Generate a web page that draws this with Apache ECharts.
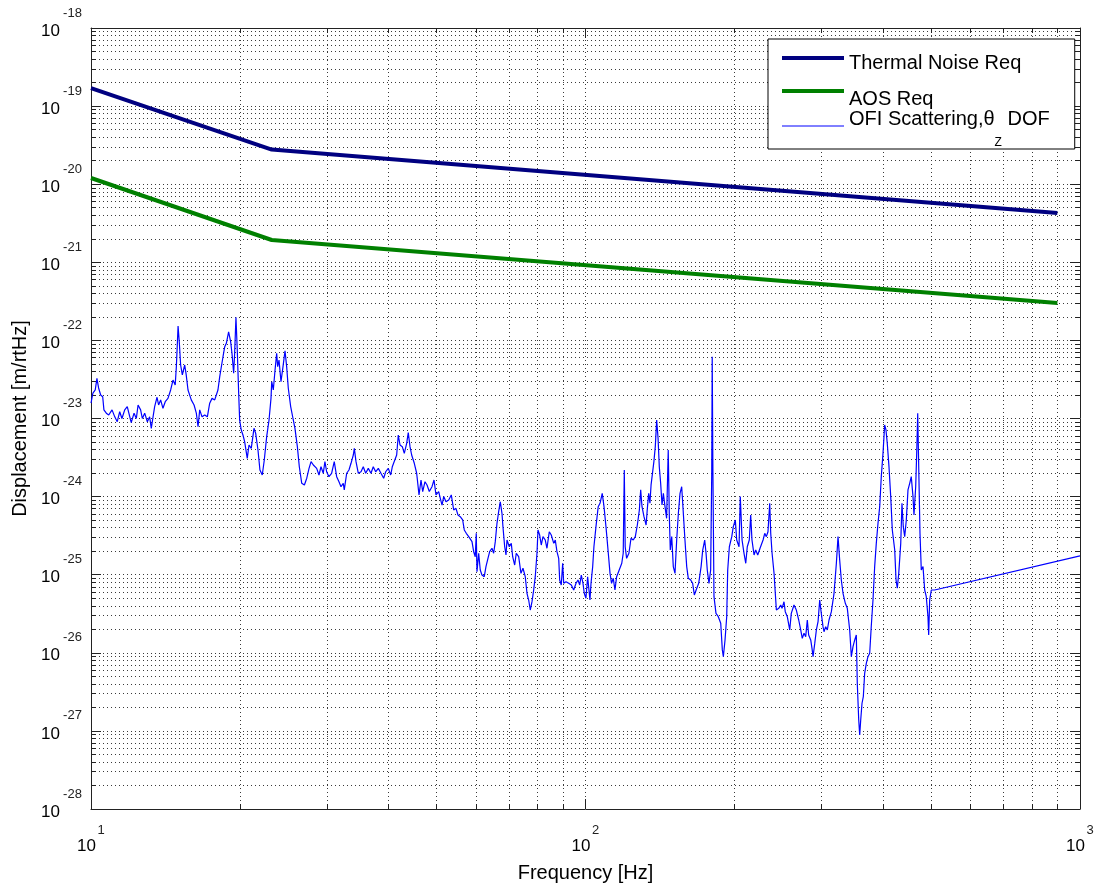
<!DOCTYPE html>
<html>
<head>
<meta charset="utf-8">
<script src="https://cdn.jsdelivr.net/npm/echarts@6/dist/echarts.min.js"></script>
<style>
html,body{margin:0;padding:0;background:#fff;}
#chart{width:1099px;height:892px;}
</style>
</head>
<body>
<div id="chart"></div>
<script>
// ---------------- data ----------------
const thermalFreq = [10, 23.2, 900];
const thermalReq = [1.7e-19, 2.78e-20, 4.28e-21];
const aosFreq = [10, 23.2, 900];
const aosReq = [1.2e-20, 1.93e-21, 3.01e-22];

// OFI scattering, theta_Z DOF : [frequency Hz, displacement m/rtHz]
const ofiScattering = [
[10.0,1.57e-23],[10.09,2.12e-23],[10.20,2.32e-23],[10.28,3.27e-23],[10.36,2.46e-23],[10.46,2.00e-23],[10.56,1.90e-23],[10.62,1.29e-23],[10.74,1.17e-23],[10.86,1.11e-23],
[11.03,1.29e-23],[11.17,1.05e-23],[11.30,9.1e-24],[11.43,1.22e-23],[11.55,1.0e-23],[11.70,1.29e-23],[11.84,1.42e-23],[11.98,1.05e-23],[12.06,8.84e-24],[12.22,1.17e-23],
[12.35,1.0e-23],[12.45,1.49e-23],[12.60,1.29e-23],[12.70,1.0e-23],[12.84,1.17e-23],[13.00,9.1e-24],[13.14,1.05e-23],[13.24,7.49e-24],[13.35,1.05e-23],[13.45,1.42e-23],
[13.60,1.87e-23],[13.70,1.49e-23],[13.83,1.73e-23],[13.98,1.35e-23],[14.13,1.64e-23],[14.31,1.81e-23],[14.49,2.32e-23],[14.65,3.11e-23],[14.80,2.69e-23],[14.88,4.61e-23],
[14.94,8.31e-23],[15.00,1.53e-22],[15.09,9.18e-23],[15.18,4.84e-23],[15.30,3.61e-23],[15.47,4.84e-23],[15.58,3.61e-23],[15.71,2.32e-23],[15.95,1.73e-23],[16.16,1.49e-23],
[16.33,1.17e-23],[16.46,7.85e-24],[16.59,1.29e-23],[16.77,1.05e-23],[16.98,1.11e-23],[17.19,1.05e-23],[17.38,1.57e-23],[17.57,1.81e-23],[17.79,1.73e-23],[18.06,2.32e-23],
[18.21,3.43e-23],[18.49,6.18e-23],[18.64,8.31e-23],[18.78,9.18e-23],[18.98,1.29e-22],[19.16,9.62e-23],[19.28,6.84e-23],[19.43,3.79e-23],[19.52,6.84e-23],[19.64,1.98e-22],
[19.76,7.54e-23],[19.89,2.10e-23],[19.98,9.57e-24],[20.13,7.13e-24],[20.29,6.15e-24],[20.45,5.05e-24],[20.70,3.09e-24],[20.87,4.58e-24],[21.09,4.15e-24],[21.36,7.49e-24],
[21.53,6.46e-24],[21.76,3.95e-24],
[21.96,2.19e-24],[22.20,1.89e-24],[22.41,2.94e-24],[22.66,5.85e-24],[22.91,9.57e-24],[23.12,1.81e-23],[23.20,2.96e-23],[23.37,2.32e-23],[23.56,4.18e-23],[23.74,6.84e-23],
[23.85,4.61e-23],[24.00,5.61e-23],[24.22,2.96e-23],[24.45,4.61e-23],[24.68,7.38e-23],[24.87,4.61e-23],[25.06,2.44e-23],[25.34,1.42e-23],[25.65,9.57e-24],[25.85,7.49e-24],
[26.14,4.36e-24],[26.38,2.41e-24],[26.68,1.48e-24],[27.01,1.41e-24],[27.31,1.72e-24],[27.60,2.30e-24],[27.86,2.80e-24],[28.16,2.54e-24],[28.60,2.30e-24],[28.91,1.89e-24],
[29.18,2.41e-24],[29.49,1.99e-24],[29.72,2.80e-24],[29.96,2.08e-24],[30.28,1.80e-24],[30.66,1.99e-24],[31.04,2.80e-24],[31.39,1.80e-24],[31.73,1.55e-24],[32.03,1.34e-24],
[32.37,1.48e-24],[32.52,1.22e-24],[32.89,1.99e-24],[33.24,2.19e-24],[33.56,2.67e-24],[33.92,3.41e-24],[34.08,4.15e-24],[34.35,2.80e-24],[34.72,1.99e-24],[35.16,2.08e-24],
[35.53,2.41e-24],[35.93,1.99e-24],[36.37,2.30e-24],[36.83,1.99e-24],[37.22,2.41e-24],[37.64,2.08e-24],[38.11,2.30e-24],[38.58,1.99e-24],[39.07,1.72e-24],[39.44,2.08e-24],
[39.92,2.30e-24],[40.37,1.89e-24],[40.67,2.41e-24],[41.05,2.30e-24],[41.51,3.41e-24],[41.82,6.15e-24],[42.16,4.58e-24],[42.61,4.36e-24],[43.01,3.58e-24],[43.49,4.81e-24],
[43.81,6.58e-24],[44.17,4.36e-24],[44.51,3.41e-24],[45.06,2.67e-24],[45.56,1.99e-24],[46.06,1.05e-24],[46.49,1.63e-24],[46.86,1.16e-24],[47.36,1.55e-24],
[47.81,1.41e-24],[48.32,1.16e-24],[48.93,1.34e-24],[49.39,1.63e-24],[49.85,1.05e-24],[50.48,1.16e-24],[50.86,9.51e-25],[51.27,7.80e-25],[51.67,1.0e-24],[52.23,8.60e-25],
[52.89,9.05e-25],[53.53,1.05e-24],[54.13,6.74e-25],[54.71,7.08e-25],[55.22,5.81e-25],[55.81,5.53e-25],[56.44,5.02e-25],[56.87,3.74e-25],[57.40,3.39e-25],[58.05,3.07e-25],
[58.48,3.22e-25],[58.95,2.65e-25],[59.41,1.97e-25],[59.85,1.70e-25],[60.13,3.39e-25],[60.33,1.09e-25],[60.81,1.88e-25],[61.26,1.15e-25],[61.75,9.91e-26],[62.41,9.43e-26],
[62.91,1.27e-25],[63.50,1.62e-25],[64.00,1.97e-25],[64.69,2.18e-25],[65.20,1.88e-25],[65.70,2.65e-25],[66.22,4.55e-25],[66.74,6.41e-25],[67.25,8.60e-25],[67.78,6.11e-25],
[68.09,4.12e-25],[68.64,2.28e-25],[69.06,1.79e-25],[69.38,2.78e-25],[70.13,2.28e-25],[70.78,2.52e-25],[71.24,1.70e-25],[71.91,1.33e-25],[72.44,1.88e-25],[73.26,1.70e-25],
[74.04,1.04e-25],[74.74,1.21e-25],[75.54,9.43e-26],[76.15,5.78e-26],[76.75,4.74e-26],[77.32,3.53e-26],[77.95,4.51e-26],[78.56,6.37e-26],[79.14,9.43e-26],[79.78,1.88e-25],
[80.15,3.74e-25],[80.78,3.22e-25],[81.39,2.40e-25],[82.04,3.07e-25],[82.92,2.78e-25],[83.57,2.18e-25],[84.48,3.55e-25],[85.27,3.22e-25],[86.25,2.52e-25],[86.87,2.78e-25],
[87.56,1.97e-25],[88.27,1.62e-25],[88.67,8.55e-26],[89.33,7.38e-26],[89.92,1.40e-25],[90.34,7.76e-26],[91.32,8.14e-26],[92.47,7.76e-26],[93.61,7.38e-26],[94.65,6.37e-26],
[95.68,7.76e-26],[96.56,8.55e-26],[97.34,7.38e-26],[98.06,9.91e-26],[98.84,7.76e-26],[99.43,5.78e-26],[100.2,4.99e-26],[101.0,9.43e-26],
[102.1,4.74e-26],[102.6,7.76e-26],[103.4,1.27e-25],[104.0,2.28e-25],[105.0,4.12e-25],[106.1,7.43e-25],[107.0,8.21e-25],[108.1,1.10e-24],[109.0,7.43e-25],[110.0,4.12e-25],
[111.2,1.88e-25],[112.1,1.04e-25],[112.9,7.76e-26],[113.8,8.99e-26],[114.7,6.37e-26],[115.6,9.43e-26],[117.0,1.15e-25],[118.4,1.40e-25],[119.2,1.88e-25],[119.8,2.19e-24],
[120.3,2.28e-25],[121.1,1.62e-25],[122.4,1.88e-25],[123.6,2.92e-25],[124.9,2.78e-25],[126.1,3.07e-25],[127.3,4.33e-25],[128.5,6.74e-25],[129.3,1.22e-24],[130.1,7.43e-25],
[131.3,5.53e-25],[132.6,4.33e-25],[133.3,6.74e-25],[134.2,1.10e-24],[135.0,8.21e-25],[135.7,1.41e-24],[136.7,1.48e-24],[137.5,2.80e-24],[138.4,4.36e-24],[139.3,9.57e-24],
[140.2,5.58e-24],[141.0,2.41e-24],[141.9,1.48e-24],[142.8,7.80e-25],[143.7,1.10e-24],[144.8,7.43e-25],[145.9,5.27e-25],[147.0,3.95e-24],[147.7,6.11e-25],[148.4,2.07e-25],
[149.4,3.07e-25],[150.5,1.27e-25],[151.7,1.04e-25],[152.9,2.78e-25],[154.1,6.11e-25],[155.3,1.10e-24],[156.5,1.34e-24],[157.7,6.11e-25],[158.9,2.78e-25],[160.2,1.27e-25],
[161.4,8.99e-26],[163.2,8.55e-26],[164.7,7.76e-26],[166.0,5.50e-26],[167.9,6.70e-26],[169.4,7.76e-26],[171.3,1.27e-25],[172.6,2.07e-25],[174.2,2.78e-25],[175.3,1.88e-25],
[176.3,1.15e-25],[177.7,7.76e-26],[179.1,1.15e-25],[180.0,1.99e-24],[180.4,6.18e-23],[181.0,1.99e-24],[181.9,5.23e-26],[183.6,3.20e-26],[185.6,2.90e-26],[187.7,2.39e-26],
[189.1,1.09e-26],[190.0,8.92e-27],[191.5,1.46e-26],[193.0,2.90e-26],[193.9,1.15e-25],[195.4,2.28e-25],[197.6,3.07e-25],[199.0,4.12e-25],[200.9,5.02e-25],[202.2,2.78e-25],
[204.4,2.28e-25],[205.6,1.0e-24],[207.3,2.78e-25],[209.2,1.88e-25],[210.9,1.40e-25],[212.4,2.28e-25],[214.4,2.78e-25],[215.8,5.81e-25],[217.1,2.78e-25],[219.2,1.79e-25],
[220.9,2.07e-25],[223.0,1.79e-25],[225.4,2.18e-25],
[228.6,2.78e-25],[230.4,3.39e-25],[232.1,3.07e-25],[233.9,3.55e-25],[235.8,8.21e-25],[236.9,3.39e-25],[238.4,1.88e-25],[240.6,1.04e-25],[242.0,5.78e-26],[243.2,3.53e-26],
[245.9,3.71e-26],[248.2,4.09e-26],[249.7,3.71e-26],[252.0,4.51e-26],[253.5,3.36e-26],[255.9,2.90e-26],[258.8,1.96e-26],[260.7,3.20e-26],[264.0,4.09e-26],[266.9,3.53e-26],
[269.9,2.63e-26],[272.4,1.96e-26],[274.4,1.53e-26],[276.6,1.78e-26],[278.8,1.61e-26],[280.9,2.63e-26],[282.7,1.69e-26],[285.4,1.46e-26],[287.1,1.14e-26],[288.5,8.92e-27],
[290.8,1.32e-26],[293.0,1.96e-26],[295.3,2.50e-26],[297.6,4.74e-26],[299.8,3.20e-26],[302.2,2.16e-26],[303.6,1.86e-26],[306.0,2.16e-26],[308.3,1.96e-26],[310.8,2.63e-26],
[314.2,3.36e-26],[318.1,5.78e-26],[321.6,1.40e-25],[324.1,3.07e-25],[326.6,1.54e-25],[329.1,8.55e-26],[331.7,5.78e-26],[335.3,4.30e-26],[338.4,3.71e-26],[342.2,1.96e-26],
[344.8,8.92e-27],[347.5,1.20e-26],[350.3,1.46e-26],[352.9,1.69e-26],[354.5,4.07e-27],[356.9,1.38e-27],[358.5,8.86e-28],[360.2,1.38e-27],[362.4,2.26e-27],[364.6,2.74e-27],
[366.9,5.46e-27],[369.7,7.34e-27],[372.6,8.92e-27],[375.6,9.85e-27],[378.3,2.16e-26],[381.4,4.74e-26],[384.4,1.27e-25],[387.3,2.52e-25],[390.4,4.55e-25],[393.5,7.43e-25],
[396.4,1.80e-24],[399.6,3.58e-24],[402.7,8.26e-24],[405.2,7.13e-24],[407.6,4.81e-24],[410.9,2.41e-24],[414.2,1.0e-24],[417.3,3.74e-25],[422.0,2.07e-25],[424.6,8.55e-26],
[427.1,6.70e-26],[430.0,1.04e-25],[434.0,2.52e-25],[436.5,8.21e-25],[439.2,4.12e-25],[442.1,3.07e-25],[445.4,5.02e-25],[448.9,1.22e-24],[452.5,1.48e-24],[455.8,1.80e-24],
[459.5,1.0e-24],[461.6,5.81e-25],[465.3,1.34e-24],[467.5,3.58e-24],[469.7,1.17e-23],[471.9,2.41e-24],[474.7,3.39e-25],[477.6,1.15e-25],[481.4,1.27e-25],[485.2,6.37e-26],
[488.8,5.23e-26],[492.7,2.90e-26],[494.3,1.69e-26],[496.6,4.74e-26],[500.4,6.37e-26],[504.3,6.06e-26],[508.3,6.37e-26],[1000,1.74e-25]
];

const seriesNames = ['Thermal Noise Req', 'AOS Req', 'OFI Scattering,\u03b8Z DOF'];
const xDecades = [10, 100, 1000];
const yDecades = [1e-28, 1e-27, 1e-26, 1e-25, 1e-24, 1e-23, 1e-22, 1e-21, 1e-20, 1e-19, 1e-18];
const xLabel = 'Frequency [Hz]';
const yLabel = 'Displacement [m/rtHz]';

// -------------- chart --------------
const FONT = '"Liberation Sans", Arial, Helvetica, sans-serif';

function withMinor(decades) {
  const out = [];
  for (let i = 0; i < decades.length - 1; i++) {
    for (let m = 1; m < 10; m++) out.push(m * decades[i]);
  }
  out.push(decades[decades.length - 1]);
  return out;
}
const xTicks = withMinor(xDecades);
const yTicks = withMinor(yDecades);
const expOf = v => Math.round(Math.log10(v));

const gridStyle = { show: true, lineStyle: { color: '#3a3a3a', width: 1, type: [1, 3] } };
const frameLine = { show: true, onZero: false, lineStyle: { color: '#222', width: 1 } };

function makeAxis(position, min, max, ticks, tickLen, extra) {
  return Object.assign({
    type: 'log', logBase: 10, min: min, max: max, position: position,
    axisLine: { show: false, onZero: false },
    axisTick: { show: true, inside: true, length: tickLen, customValues: ticks, lineStyle: { color: '#222', width: 1 } },
    axisLabel: { show: false },
    splitLine: { show: false },
    minorTick: { show: false },
    minorSplitLine: { show: false }
  }, extra || {});
}

const xAxes = [
  makeAxis('bottom', 10, 1000, xTicks, 5, {
    axisLine: frameLine,
    splitLine: gridStyle,
    axisLabel: {
      show: true, customValues: xDecades, margin: 13, fontFamily: FONT,
      formatter: v => '{g|}{s|' + expOf(v) + '}\n{b|10}{g2|}',
      rich: {
        g: { width: 20, lineHeight: 16 },
        s: { fontSize: 13, color: '#222', width: 8, align: 'left', lineHeight: 16, fontFamily: FONT },
        b: { fontSize: 17, color: '#000', width: 20, align: 'left', lineHeight: 16, fontFamily: FONT },
        g2: { width: 8, lineHeight: 16 }
      }
    },
    name: xLabel, nameLocation: 'middle', nameGap: 54,
    nameTextStyle: { fontSize: 20, color: '#000', fontFamily: FONT }
  }),
  makeAxis('bottom', 10, 1000, xDecades, 10),
  makeAxis('top', 10, 1000, xTicks, 5, { axisLine: frameLine }),
  makeAxis('top', 10, 1000, xDecades, 10)
];

const yAxes = [
  makeAxis('left', 1e-28, 1e-18, yTicks, 5, {
    axisLine: frameLine,
    splitLine: gridStyle,
    axisLabel: {
      show: true, customValues: yDecades, margin: 8, fontFamily: FONT,
      padding: [0, 0, 12, 0],
      formatter: v => '{g|}{s|' + expOf(v) + '}\n{b|10}{g2|}',
      rich: {
        g: { width: 21, lineHeight: 18 },
        s: { fontSize: 13, color: '#222', width: 21, align: 'left', lineHeight: 18, fontFamily: FONT },
        b: { fontSize: 17, color: '#000', width: 21, align: 'left', lineHeight: 18, fontFamily: FONT },
        g2: { width: 21, lineHeight: 18 }
      }
    },
    name: yLabel, nameLocation: 'middle', nameGap: 59, nameRotate: 90,
    nameTextStyle: { fontSize: 20, color: '#000', fontFamily: FONT }
  }),
  makeAxis('left', 1e-28, 1e-18, yDecades, 10),
  makeAxis('right', 1e-28, 1e-18, yTicks, 5, { axisLine: frameLine }),
  makeAxis('right', 1e-28, 1e-18, yDecades, 10)
];

const legendRich = {
  t1: { fontSize: 20, lineHeight: 20, padding: [10, 0, 0, 0], color: '#000', fontFamily: FONT },
  t2: { fontSize: 20, lineHeight: 20, padding: [16, 0, 0, 0], color: '#000', fontFamily: FONT },
  m: { fontSize: 20, lineHeight: 34, verticalAlign: 'top', color: '#000', fontFamily: FONT },
  sub: { fontSize: 12, lineHeight: 12, verticalAlign: 'top', padding: [28, 0, 0, 0], color: '#000', fontFamily: FONT }
};
function legendText(name) {
  if (name === seriesNames[0]) return '{t1|' + name + '}';
  if (name === seriesNames[1]) return '{t2|' + name + '}';
  return '{m|OFI Scattering,\u03b8}{sub|Z}{m| DOF}';
}

const chart = echarts.init(document.getElementById('chart'), null, { renderer: 'canvas' });
chart.setOption({
  animation: false,
  backgroundColor: '#fff',
  textStyle: { fontFamily: FONT },
  grid: { left: 91, right: 19, top: 28, bottom: 83, containLabel: false },
  xAxis: xAxes,
  yAxis: yAxes,
  legend: {
    data: [
      { name: seriesNames[0], lineStyle: { width: 4 } },
      { name: seriesNames[1], lineStyle: { width: 4 } },
      { name: seriesNames[2], lineStyle: { width: 1 } }
    ],
    orient: 'vertical',
    left: 768, top: 39,
    itemWidth: 62, itemHeight: 14, itemGap: 0,
    padding: [4, 25, 0, 12],
    backgroundColor: '#fff',
    borderColor: '#000', borderWidth: 1, borderRadius: 0,
    selectedMode: false,
    itemStyle: { opacity: 0, borderWidth: 0 },
    formatter: legendText,
    textStyle: { fontSize: 20, color: '#000', fontFamily: FONT, rich: legendRich }
  },
  series: [
    {
      name: seriesNames[0], type: 'line', xAxisIndex: 0, yAxisIndex: 0,
      data: thermalFreq.map((f, i) => [f, thermalReq[i]]),
      symbol: 'none', lineStyle: { color: '#000080', width: 4 }, itemStyle: { color: '#000080' }, z: 3
    },
    {
      name: seriesNames[1], type: 'line', xAxisIndex: 0, yAxisIndex: 0,
      data: aosFreq.map((f, i) => [f, aosReq[i]]),
      symbol: 'none', lineStyle: { color: '#008000', width: 4 }, itemStyle: { color: '#008000' }, z: 3
    },
    {
      name: seriesNames[2], type: 'line', xAxisIndex: 0, yAxisIndex: 0,
      data: ofiScattering,
      symbol: 'none', lineStyle: { color: '#0000ff', width: 1.2 }, itemStyle: { color: '#0000ff' }, z: 2
    }
  ]
});
</script>
</body>
</html>
